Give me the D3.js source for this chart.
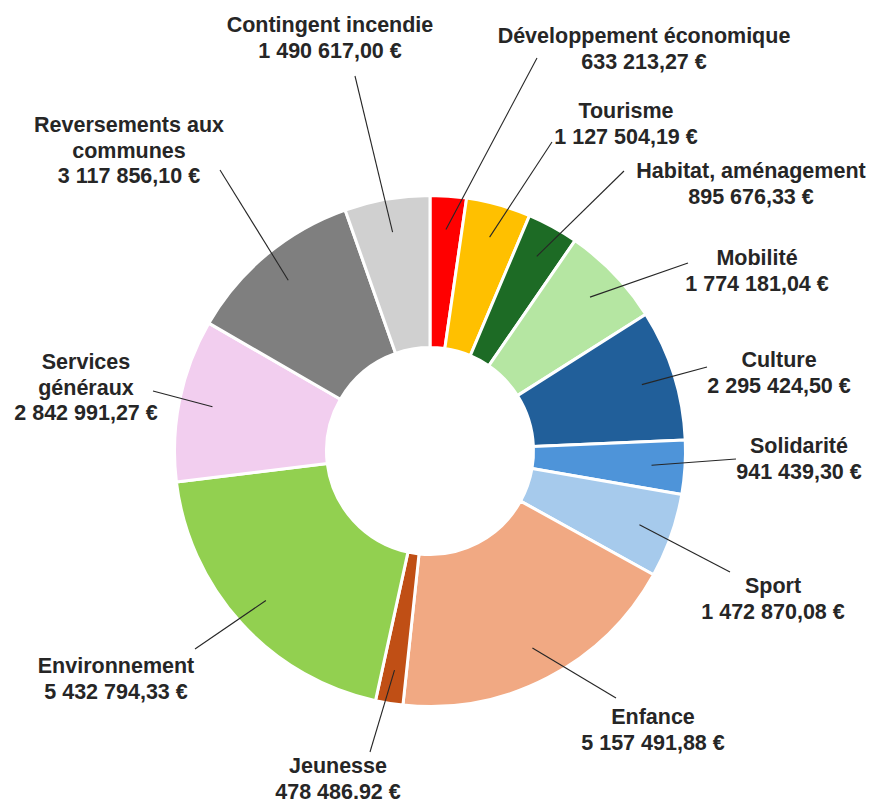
<!DOCTYPE html>
<html>
<head>
<meta charset="utf-8">
<script src="https://cdn.jsdelivr.net/npm/d3@7"></script>
<style>
  body { margin: 0; background: #fff; }
  svg text { font-family: "Liberation Sans", Arial, sans-serif; font-weight: bold; font-size: 21.5px; fill: #262626; }
</style>
</head>
<body>
<svg id="chart"></svg>
<script>
const categories = [
  "Développement économique", "Tourisme", "Habitat, aménagement", "Mobilité",
  "Culture", "Solidarité", "Sport", "Enfance", "Jeunesse", "Environnement",
  "Services\ngénéraux", "Reversements aux\ncommunes", "Contingent incendie"
];
const amounts = [
  633213.27, 1127504.19, 895676.33, 1774181.04,
  2295424.50, 941439.30, 1472870.08, 5157491.88, 478486.92, 5432794.33,
  2842991.27, 3117856.10, 1490617.00
];
const colors = [
  "#ff0000", "#ffc000", "#1d6b25", "#b5e6a2",
  "#215f9a", "#4e94d9", "#a6caec", "#f1a983", "#c04f15", "#92d050",
  "#f2ceef", "#7f7f7f", "#d0d0d0"
];

// label placement, set by hand as in the source chart
// [centre x, first baseline y, leader start x, leader start y]
const labelPos = [
  [644, 43, 537, 58],
  [626, 118, 552, 142],
  [751, 178, 624, 171],
  [757, 265, 688, 263],
  [779, 367, 707, 367],
  [799, 453, 736, 459],
  [773, 593, 730, 572],
  [653, 724, 616, 698],
  [338, 773, 370, 752],
  [116, 673, 195, 649],
  [86, 369, 153, 391],
  [129, 132, 220, 170],
  [330, 32, 355, 76]
];

const width = 874, height = 799;
const cx = 430, cy = 451;
const outerR = 255.5, innerR = 103.5, leaderR = 222;
const lineH = 25.5;

const svg = d3.select("#chart")
  .attr("width", width)
  .attr("height", height);

const g = svg.append("g")
  .attr("transform", `translate(${cx},${cy})`);

const pie = d3.pie().sort(null).value(d => d)
  .startAngle(0).endAngle(2 * Math.PI);
const arcs = pie(amounts);

const arc = d3.arc().innerRadius(innerR).outerRadius(outerR);
const leaderArc = d3.arc().innerRadius(leaderR).outerRadius(leaderR);

g.selectAll("path.slice")
  .data(arcs)
  .join("path")
    .attr("class", "slice")
    .attr("d", arc)
    .attr("fill", (d, i) => colors[i])
    .attr("stroke", "#fff")
    .attr("stroke-width", 3)
    .attr("stroke-linejoin", "round");

const fr = d3.formatLocale({ decimal: ",", thousands: " ", grouping: [3], currency: ["", " €"] });
const fmt = fr.format(",.2f");

// leader lines
svg.selectAll("line.leader")
  .data(arcs)
  .join("line")
    .attr("class", "leader")
    .attr("x1", (d, i) => labelPos[i][2])
    .attr("y1", (d, i) => labelPos[i][3])
    .attr("x2", d => cx + leaderArc.centroid(d)[0])
    .attr("y2", d => cy + leaderArc.centroid(d)[1])
    .attr("stroke", "#262626")
    .attr("stroke-width", 1.1);

// labels
const labels = svg.selectAll("text.lbl")
  .data(arcs)
  .join("text")
    .attr("class", "lbl")
    .attr("text-anchor", "middle")
    .attr("x", (d, i) => labelPos[i][0])
    .attr("y", (d, i) => labelPos[i][1]);

labels.each(function(d, i) {
  const lines = categories[i].split("\n").concat([fmt(amounts[i]) + " €"]);
  d3.select(this).selectAll("tspan")
    .data(lines)
    .join("tspan")
      .attr("x", labelPos[i][0])
      .attr("dy", (t, j) => j === 0 ? 0 : lineH)
      .text(t => t);
});
</script>
</body>
</html>
